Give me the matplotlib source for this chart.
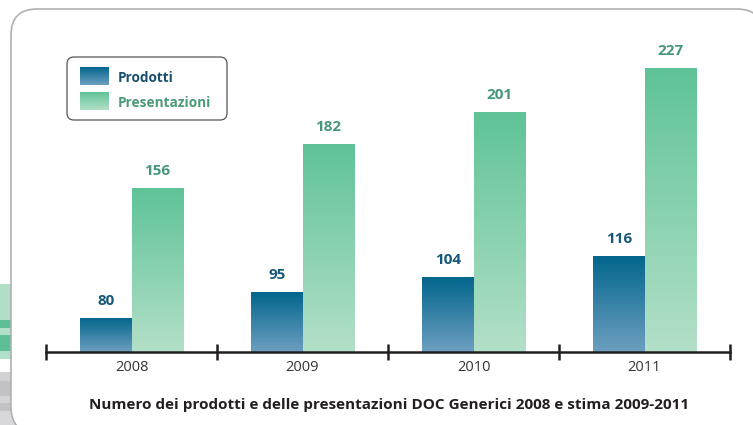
import numpy as np
import matplotlib
matplotlib.use("Agg")
import matplotlib.pyplot as plt
from matplotlib.patches import FancyBboxPatch, Rectangle
from matplotlib.transforms import IdentityTransform
from matplotlib.colors import LinearSegmentedColormap

plt.rcParams['font.family'] = ['Open Sans', 'DejaVu Sans']

years = ["2008", "2009", "2010", "2011"]
prodotti = [80, 95, 104, 116]
presentazioni = [156, 182, 201, 227]
series_names = ["Prodotti", "Presentazioni"]
title = "Numero dei prodotti e delle presentazioni DOC Generici 2008 e stima 2009-2011"

W, H = 753, 425
fig = plt.figure(figsize=(W / 100, H / 100), dpi=100)
fig.patch.set_facecolor("white")

ident = IdentityTransform()

def px(x0, y0_top, w, h):
    # pixel box (top-left origin) to display coords
    return x0, H - y0_top - h, w, h

# left decorative strips
strips = [
    (284, 36, "#b1dfc7"), (320, 8, "#5cbf96"), (328, 7, "#b1dfc7"),
    (335, 16, "#5cbf96"), (351, 8, "#b1dfc7"),
    (372, 9, "#d2d2d4"), (381, 15, "#c2c2c6"), (396, 7, "#d4d4d6"),
    (403, 8, "#c2c2c6"), (411, 20, "#d8d8da"),
]
for (yt, hh, c) in strips:
    x, y, w, h = px(0, yt, 40, hh)
    fig.patches.append(Rectangle((x, y), w, h, transform=ident, facecolor=c,
                                 edgecolor="none", zorder=0))

# frame
fx, fy, fw, fh = px(11, 9, 752, 424)
frame = FancyBboxPatch((fx, fy), fw, fh, boxstyle="round,pad=0,rounding_size=26",
                       transform=ident, facecolor="white", edgecolor="#b0b0b0",
                       linewidth=1.2, zorder=1)
fig.patches.append(frame)

# main axes
left, right, bottom_px, top_px = 46, 730, 352, 10
ax = fig.add_axes([left / W, (H - bottom_px) / H, (right - left) / W, (bottom_px - top_px) / H])
ax.set_facecolor("none")
ax.set_zorder(2)
y0 = 60
ax.set_ylim(y0, y0 + (bottom_px - top_px) / 1.70)
ax.set_xlim(-0.5, len(years) - 0.5)

x = np.arange(len(years))
bw = 0.3
b1 = ax.bar(x - bw / 2, prodotti, bw, color="none", edgecolor="none")
b2 = ax.bar(x + bw / 2, presentazioni, bw, color="none", edgecolor="none")

cm1 = LinearSegmentedColormap.from_list("p", ["#6d9fc0", "#03668d"])
cm2 = LinearSegmentedColormap.from_list("q", ["#b3e0c8", "#5fc397"])
grad = np.linspace(0, 1, 256).reshape(-1, 1)
for bars, cm in ((b1, cm1), (b2, cm2)):
    for r in bars:
        xx, ww, hh = r.get_x(), r.get_width(), r.get_height()
        ax.imshow(grad, cmap=cm, origin="lower", aspect="auto",
                  extent=[xx, xx + ww, y0, hh], zorder=1, interpolation="bilinear")
ax.set_xlim(-0.5, len(years) - 0.5)
ax.set_ylim(y0, y0 + (bottom_px - top_px) / 1.70)

for bars, vals, col in ((b1, prodotti, "#17587a"), (b2, presentazioni, "#47977a")):
    for r, v in zip(bars, vals):
        ax.annotate(str(v), (r.get_x() + r.get_width() / 2, v), xytext=(0, 12.5),
                    textcoords="offset points", ha="center", va="center",
                    fontsize=11, fontweight="bold", color=col)

for s in ("left", "right", "top"):
    ax.spines[s].set_visible(False)
ax.spines["bottom"].set_color("#231f20")
ax.spines["bottom"].set_linewidth(1.8)
ax.set_yticks([])
ax.set_xticks(x)
ax.set_xticklabels(years, fontsize=10.5, color="#333333")
ax.tick_params(axis="x", which="major", length=0, pad=5.5)
ax.set_xticks(np.arange(-0.5, len(years)), minor=True)
ax.tick_params(axis="x", which="minor", length=12, width=1.8, direction="inout",
               color="#231f20")

fig.text(389.5 / W, (H - 405) / H, title, ha="center", va="center",
         fontsize=11, fontweight="bold", color="#231f20", zorder=3)

# legend
lx, ly, lw, lh = px(67, 57, 160, 63)
fig.patches.append(FancyBboxPatch((lx, ly), lw, lh, boxstyle="round,pad=0,rounding_size=7",
                                  transform=ident, facecolor="white", edgecolor="#555555",
                                  linewidth=0.9, zorder=3))
for i, (name, cm, tc) in enumerate(((series_names[0], cm1, "#17506e"),
                                    (series_names[1], cm2, "#4a9a78"))):
    yt = 67 + i * 25
    pa = fig.add_axes([80 / W, (H - yt - 18) / H, 29 / W, 18 / H])
    pa.imshow(grad, cmap=cm, origin="lower", aspect="auto", interpolation="bilinear")
    pa.axis("off")
    pa.set_zorder(4)
    fig.text(118 / W, (H - yt - 11) / H, name, ha="left", va="center",
             fontsize=9.8, fontweight="bold", color=tc, zorder=5)

fig.savefig("out.png", dpi=100)
